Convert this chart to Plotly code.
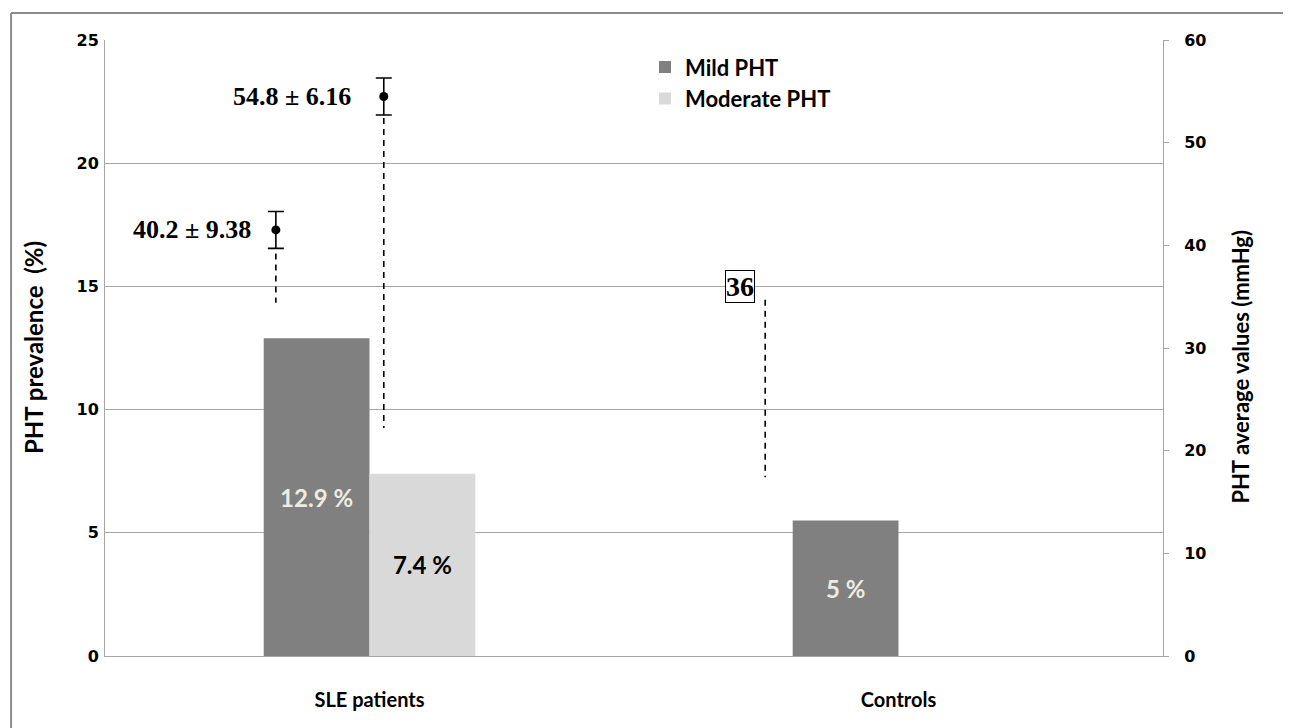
import plotly.graph_objects as go

# ---------------- data ----------------
categories = ["SLE patients", "Controls"]
cat_x = [0, 1]
mild_pct = [12.9, 5.5]
moderate_pct = [7.4, 0]
mild_labels = ["12.9 %", "5 %"]
moderate_labels = ["7.4 %", ""]

# PHT average values (mmHg), right axis
mean_x = [-0.177, 0.027]
mean_vals = [41.5, 54.5]
mean_err = [1.8, 1.8]
mean_texts = ["40.2 \u00b1 9.38", "54.8 \u00b1 6.16"]
mean_text_shift = [-23, -31]

# dashed drop lines (x, top, bottom) in mmHg
drop_x = [-0.177, 0.027, 0.748]
drop_top = [39.2, 52.4, 34.7]
drop_bottom = [34.4, 22.2, 17.4]

control_value_x = 0.70
control_value = 36
control_text = "36"

left_ticks = [0, 5, 10, 15, 20, 25]
right_ticks = [0, 10, 20, 30, 40, 50, 60]

MILD = "#808080"
MOD = "#D9D9D9"
GRID = "#A6A6A6"
LABEL_FONT = "Lato"
TICK_FONT = "DejaVu Sans"
SERIF = "Liberation Serif"

fig = go.Figure()

fig.add_trace(go.Bar(
    x=cat_x, y=mild_pct, name="Mild PHT", marker=dict(color=MILD, line=dict(width=0)),
    text=mild_labels, textposition="inside", insidetextanchor="middle", textangle=0,
    textfont=dict(family=LABEL_FONT, size=24, color=["#EEECE1", "#EEECE1"], weight="bold"),
    legendgroup="a", hoverinfo="skip",
))
fig.add_trace(go.Bar(
    x=cat_x, y=moderate_pct, name="Moderate PHT", marker=dict(color=MOD, line=dict(width=0)),
    text=moderate_labels, textposition="inside", insidetextanchor="middle", textangle=0,
    textfont=dict(family=LABEL_FONT, size=24, color=["#000000", "#000000"], weight="bold"),
    legendgroup="b", hoverinfo="skip",
))

# dashed drop lines
for xv, t, b in zip(drop_x, drop_top, drop_bottom):
    fig.add_trace(go.Scatter(
        x=[xv, xv], y=[t, b], yaxis="y2", mode="lines",
        line=dict(color="black", width=1.6, dash="6px,5px"),
        showlegend=False, hoverinfo="skip",
    ))

# mean markers with error bars
fig.add_trace(go.Scatter(
    x=mean_x, y=mean_vals, yaxis="y2", mode="markers",
    marker=dict(symbol="circle", size=9, color="black"),
    error_y=dict(type="data", array=mean_err, visible=True, color="black", thickness=1.6, width=8),
    showlegend=False, hoverinfo="skip",
))

for xv, yv, txt, sh in zip(mean_x, mean_vals, mean_texts, mean_text_shift):
    fig.add_annotation(
        x=xv, y=yv, xref="x", yref="y2", text="<b>%s</b>" % txt, showarrow=False,
        xanchor="right", yanchor="middle", xshift=sh,
        font=dict(family=SERIF, size=26, color="black"),
    )

fig.add_annotation(
    x=control_value_x, y=control_value, xref="x", yref="y2", text="<b>%s</b>" % control_text,
    showarrow=False, xanchor="center", yanchor="middle",
    font=dict(family=SERIF, size=28, color="black"),
    bordercolor="black", borderwidth=1, borderpad=0, bgcolor="white",
)

# axis titles
fig.add_annotation(
    x=-0.068, y=0.5, xref="paper", yref="paper", text="<b>PHT prevalence  (%)</b>",
    showarrow=False, textangle=-90, font=dict(family=LABEL_FONT, size=24, color="black"),
    xanchor="center", yanchor="middle",
)
fig.add_annotation(
    x=1.0728, y=0.47, xref="paper", yref="paper", text="<b>PHT average values (mmHg)</b>",
    showarrow=False, textangle=-90, font=dict(family=LABEL_FONT, size=22, color="black"),
    xanchor="center", yanchor="middle",
)

# outer frame: only its top and left edges are inside the picture
fig.add_shape(type="line", xref="paper", yref="paper", x0=-0.0888, y0=1.0438, x1=1.5, y1=1.0438,
              line=dict(color="#8C8C8C", width=2), layer="below")
fig.add_shape(type="line", xref="paper", yref="paper", x0=-0.0888, y0=-0.5, x1=-0.0888, y1=1.0438,
              line=dict(color="#8C8C8C", width=2), layer="below")

fig.update_layout(
    width=1283, height=720,
    margin=dict(l=97, r=128, t=32, b=72),
    paper_bgcolor="white", plot_bgcolor="white",
    barmode="group", bargap=0.6, bargroupgap=0,
    showlegend=True,
    legend=dict(x=0.5104, y=0.99, xanchor="left", yanchor="top",
                font=dict(family=LABEL_FONT, size=22, color="black", weight="bold"),
                bgcolor="rgba(0,0,0,0)", tracegroupgap=12, traceorder="normal",
                itemwidth=30),
    xaxis=dict(
        range=[-0.5, 1.5], tickvals=cat_x, ticktext=categories,
        showgrid=False, zeroline=False, showline=True, linecolor=GRID, linewidth=1,
        ticks="", tickfont=dict(family=LABEL_FONT, size=20, color="black", weight="bold"),
        ticklabelstandoff=26, fixedrange=True,
    ),
    yaxis=dict(
        range=[0, 25], tickvals=left_ticks, showgrid=True, gridcolor=GRID, gridwidth=1,
        zeroline=False, showline=True, linecolor=GRID, linewidth=1, ticks="",
        tickfont=dict(family=TICK_FONT, size=16, color="black", weight="bold"),
        ticklabelstandoff=2,
    ),
    yaxis2=dict(
        range=[0, 60], tickvals=right_ticks, overlaying="y", side="right",
        showgrid=False, zeroline=False, showline=True, linecolor=GRID, linewidth=1,
        ticks="outside", ticklen=5, tickcolor=GRID,
        tickfont=dict(family=TICK_FONT, size=16, color="black", weight="bold"),
        ticklabelstandoff=12,
    ),
)

fig.write_html("out.html")
